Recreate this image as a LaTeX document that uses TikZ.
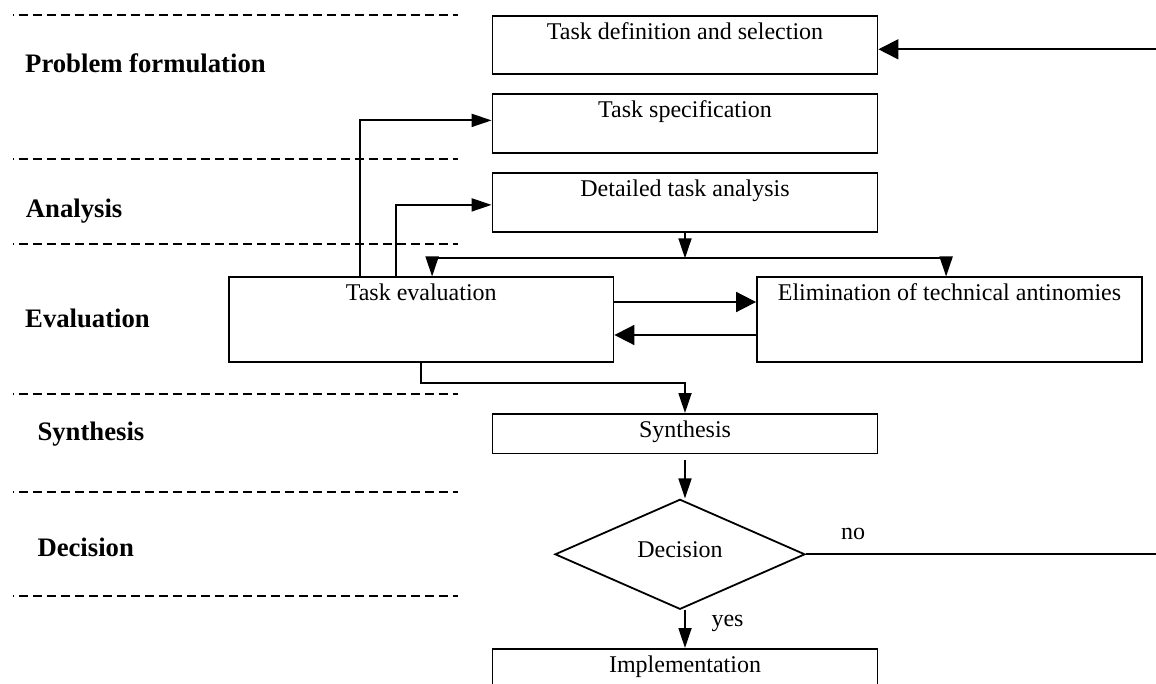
\documentclass[tikz,border=0pt]{standalone}
\usepackage{fontspec}
\setmainfont{Liberation Serif}
\usetikzlibrary{arrows.meta,shapes.geometric,calc}
\newcommand{\regfont}{\fontsize{24}{28}\selectfont}
\newcommand{\labfont}{\fontsize{26.7}{30}\selectfont\bfseries}
\begin{document}
\begin{tikzpicture}[x=1pt,y=-1pt,
  box/.style={draw, line width=1.8pt, inner xsep=0pt, inner ysep=0pt,
    text height=23.5pt, anchor=north, font=\regfont},
  decbox/.style={draw, diamond, line width=1.8pt, inner sep=0pt,
    minimum width=250pt, minimum height=110pt,
    text height=12pt, text depth=6.6pt, font=\regfont},
  lab/.style={anchor=base west, inner sep=0pt, font=\labfont},
  reg/.style={anchor=base, inner sep=0pt, font=\regfont},
  sep/.style={line width=1.6pt, dash pattern=on 9pt off 5pt, dash phase=8pt},
  plain/.style={line width=1.8pt},
  narrow/.style={line width=1.8pt, -{Triangle[length=20pt,width=13pt]}},
  wide/.style={line width=1.8pt, -{Triangle[length=20pt,width=20pt]}}]
\useasboundingbox (0,0) rectangle (1156,684);
\clip (0,0) rectangle (1156,684);

% separators
\foreach \yy in {15.3,159,244,394,492,596}
  \draw[sep] (12.7,\yy) -- (457.5,\yy);

% phase labels
\node[lab] (lpf) at (25,72.7) {Problem formulation};
\node[lab] (lan) at (25.7,218) {Analysis};
\node[lab] (lev) at (25,328) {Evaluation};
\node[lab] (lsy) at (37.3,440) {Synthesis};
\node[lab] (lde) at (37.3,556.7) {Decision};

% boxes
\node[box, minimum width=385pt, text depth=35pt] (tdef) at (685,15) {Task definition and selection};
\node[box, minimum width=385pt, text depth=35.5pt] (tspec) at (685,93.5) {Task specification};
\node[box, minimum width=385pt, text depth=35pt] (dta) at (685,172.5) {Detailed task analysis};
\node[box, minimum width=384.5pt, text depth=61pt] (teval) at (421.25,276.5) {Task evaluation};
\node[box, minimum width=385pt, text depth=61pt] (elim) at (949.5,276.5) {Elimination of technical antinomies};
\node[box, minimum width=385pt, text depth=16pt] (synth) at (685,413) {Synthesis};
\node[decbox] (dec) at (680,554.3) {Decision};
\node[box, minimum width=385pt, text depth=40pt] (impl) at (685,648) {Implementation};

% texts on connectors
\node[reg] (no) at (853,539) {no};
\node[reg] (yes) at (727.5,626) {yes};

% connectors
\coordinate (rin) at (1160,49.3);
\draw[wide] (rin) -- (rin -| tdef.east);
\coordinate (rout) at (1160,551.7);
\draw[plain] (dec.east) -- (dec.east -| rout);

\coordinate (c1) at ([xshift=132pt]teval.north west);
\coordinate (c1t) at ([yshift=3.5pt]tspec.west);
\draw[narrow] (c1) |- (c1t);
\coordinate (c2) at ([xshift=168pt]teval.north west);
\coordinate (c2t) at ([yshift=-2.25pt]dta.west);
\draw[narrow] (c2) |- (c2t);

\coordinate (split) at ([yshift=-25.5pt]dta.south);
\draw[narrow] (dta.south) -- (split);
\draw[narrow] (split) -| ([xshift=204pt]teval.north west);
\draw[narrow] (split) -| ([xshift=190pt]elim.north west);

\coordinate (e1) at ([yshift=-25.5pt]teval.north east);
\draw[wide] (e1) -- (e1 -| elim.west);
\coordinate (e2) at ([yshift=-58.5pt]elim.north west);
\draw[wide] (e2) -- (e2 -| teval.east);

\draw[narrow] (teval.south) -- ++(0,20) -| (synth.north);
\coordinate (s1) at ([yshift=-5.5pt]synth.south);
\draw[narrow] (s1) -- (s1 |- dec.north);
\draw[narrow] (dec.south -| impl.north) -- (impl.north);
\end{tikzpicture}
\end{document}
